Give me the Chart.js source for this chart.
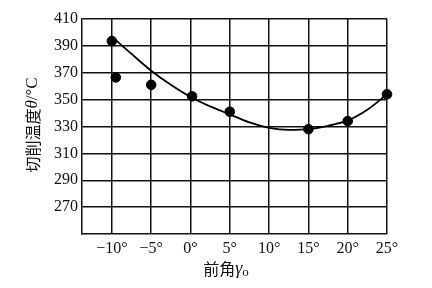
<!DOCTYPE html>
<html>
<head>
<meta charset="utf-8">
<script src="https://cdn.jsdelivr.net/npm/chart.js@4"></script>
<style>
  html, body { margin: 0; padding: 0; background: #fff; }
  #wrap { width: 432px; height: 288px; }
</style>
</head>
<body>
<div id="wrap"><canvas id="chartTemp"></canvas></div>
<script>
// measured points
const angleX = [-10, -9.5, -5, 0.2, 5, 15, 20, 25];
const tempY = [393.6, 366.5, 361, 352.5, 341, 328, 334, 354];
// fitted curve
const curveX = [-10, -7.5, -5, -2.5, 0, 2.5, 5, 7.5, 10, 12.5, 15, 17.5, 20, 22.5, 25];
const curveY = [397, 384, 371.5, 361, 352, 345, 339, 333, 329, 327.5, 328, 330.5, 334.5, 342.5, 354];
const xTicks = [-10, -5, 0, 5, 10, 15, 20, 25];
const yTicks = [270, 290, 310, 330, 350, 370, 390, 410];

(function () {
  const ink = '#111';
  const serif = '"Liberation Serif", "DejaVu Serif", serif';
  const cjk = '"Noto Sans CJK SC", "Noto Sans", sans-serif';

  // axis titles drawn by hand so θ can be italic and o a subscript
  const titles = {
    id: 'titles',
    afterDraw(chart) {
      const ctx = chart.ctx;
      const area = chart.chartArea;
      ctx.save();
      ctx.fillStyle = ink;
      ctx.textBaseline = 'middle';

      // y title, rotated
      const yParts = [
        { t: '切削温度', f: '16px ' + cjk },
        { t: 'θ', f: 'italic 17px ' + serif },
        { t: '/°C', f: '17px ' + serif },
      ];
      let total = 0;
      yParts.forEach(p => { ctx.font = p.f; p.w = ctx.measureText(p.t).width; total += p.w; });
      ctx.translate(33, 125);
      ctx.rotate(-Math.PI / 2);
      let x = -total / 2;
      yParts.forEach(p => { ctx.font = p.f; ctx.fillText(p.t, x, 0); x += p.w; });
      ctx.restore();

      // x title
      ctx.save();
      ctx.fillStyle = ink;
      ctx.textBaseline = 'middle';
      const xParts = [
        { t: '前角', f: '16px ' + cjk, dy: 0 },
        { t: 'γ', f: 'italic 18px ' + serif, dy: 0 },
        { t: 'o', f: '13px ' + serif, dy: 4 },
      ];
      total = 0;
      xParts.forEach(p => { ctx.font = p.f; p.w = ctx.measureText(p.t).width; total += p.w; });
      x = 226 - total / 2;
      xParts.forEach(p => { ctx.font = p.f; ctx.fillText(p.t, x, 269 + p.dy); x += p.w; });
      ctx.restore();
    },
  };

  Chart.defaults.color = ink;
  Chart.defaults.font.family = serif;
  Chart.defaults.font.size = 16;

  new Chart(document.getElementById('chartTemp'), {
    type: 'scatter',
    data: {
      datasets: [
        {
          label: '测量值',
          data: angleX.map((v, i) => ({ x: v, y: tempY[i] })),
          backgroundColor: '#000',
          borderColor: '#000',
          pointRadius: 4.8,
          pointHoverRadius: 4.8,
          clip: false,
        },
        {
          label: '拟合曲线',
          type: 'line',
          data: curveX.map((v, i) => ({ x: v, y: curveY[i] })),
          borderColor: '#000',
          borderWidth: 1.8,
          pointRadius: 0,
          tension: 0.4,
          cubicInterpolationMode: 'monotone',
          fill: false,
          clip: false,
        },
      ],
    },
    options: {
      responsive: true,
      maintainAspectRatio: false,
      animation: false,
      layout: { padding: { left: 0, right: 45, top: 19, bottom: 0 } },
      plugins: { legend: { display: false }, tooltip: { enabled: false } },
      scales: {
        x: {
          type: 'linear',
          min: -13.8,
          max: 25,
          afterBuildTicks: s => { s.ticks = xTicks.map(v => ({ value: v })); },
          afterFit: s => { s.height = 54; },
          grid: { color: ink, lineWidth: 1.5, drawTicks: false },
          border: { color: ink, width: 1.5 },
          ticks: {
            padding: 5,
            maxRotation: 0,
            callback: v => (v < 0 ? '−' + Math.abs(v) : v) + '°',
          },
        },
        y: {
          min: 250,
          max: 410,
          afterBuildTicks: s => { s.ticks = yTicks.map(v => ({ value: v })); },
          afterFit: s => { s.width = 82; },
          grid: { color: ink, lineWidth: 1.5, drawTicks: false },
          border: { color: ink, width: 1.5 },
          ticks: { padding: 4 },
        },
      },
    },
    plugins: [titles],
  });
})();
</script>
</body>
</html>
